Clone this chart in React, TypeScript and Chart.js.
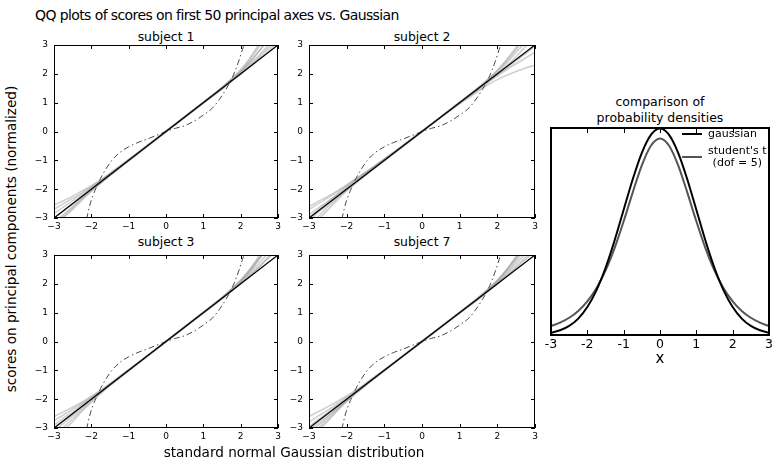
import React, { useEffect, useRef } from "react";
import { Chart, registerables } from "chart.js";
Chart.register(...registerables);

// ---------------- DATA ----------------
const qqTicks = [-3, -2, -1, 0, 1, 2, 3];
const densityTicks = [-3, -2, -1, 0, 1, 2, 3];

// theoretical gaussian quantiles where the grey score curves are sampled
const gridX = [-3, -2.75, -2.5, -2.25, -2, -1.75, -1.5, -1, 0, 1, 1.5, 1.75, 2, 2.25, 2.5, 2.75, 3];

const subject1Lines = [
  [-3.35, -3.0, -2.7, -2.38, -2.08, -1.8, -1.53, -1.02, 0, 1.0, 1.5, 1.78, 2.05, 2.4, 2.8, 3.2, 3.6],
  [-3.15, -2.88, -2.6, -2.3, -2.03, -1.77, -1.51, -1.0, 0.01, 1.01, 1.52, 1.8, 2.1, 2.5, 2.95, 3.4, 3.9],
  [-3.0, -2.75, -2.5, -2.25, -2.0, -1.74, -1.49, -0.99, 0, 1.0, 1.49, 1.76, 2.02, 2.33, 2.65, 3.0, 3.35],
  [-2.85, -2.62, -2.4, -2.18, -1.95, -1.72, -1.47, -0.98, 0.02, 1.02, 1.53, 1.83, 2.15, 2.55, 3.05, 3.5, 4.0],
  [-2.7, -2.5, -2.32, -2.12, -1.92, -1.7, -1.46, -0.99, -0.01, 0.99, 1.48, 1.75, 2.0, 2.28, 2.58, 2.9, 3.2],
  [-2.55, -2.4, -2.24, -2.06, -1.88, -1.68, -1.45, -0.97, 0.01, 1.01, 1.51, 1.79, 2.08, 2.42, 2.8, 3.25, 3.7],
  [-3.25, -2.95, -2.65, -2.33, -2.05, -1.78, -1.52, -1.01, -0.01, 0.98, 1.47, 1.73, 1.98, 2.25, 2.52, 2.8, 3.1],
];
const subject2Lines = [
  [-3.3, -2.95, -2.62, -2.3, -2.02, -1.76, -1.5, -1.0, 0, 1.0, 1.5, 1.77, 2.05, 2.38, 2.75, 3.1, 3.5],
  [-2.9, -2.65, -2.42, -2.18, -1.93, -1.69, -1.44, -0.97, 0.01, 0.96, 1.4, 1.62, 1.8, 1.95, 2.08, 2.2, 2.3],
  [-3.1, -2.8, -2.55, -2.28, -2.0, -1.75, -1.5, -1.0, 0, 1.01, 1.52, 1.8, 2.1, 2.45, 2.85, 3.3, 3.7],
  [-2.7, -2.5, -2.3, -2.1, -1.88, -1.65, -1.42, -0.96, 0.01, 0.98, 1.45, 1.7, 1.93, 2.15, 2.35, 2.55, 2.75],
  [-3.4, -3.05, -2.72, -2.38, -2.06, -1.78, -1.52, -1.02, -0.01, 1.0, 1.49, 1.75, 2.0, 2.28, 2.6, 2.95, 3.3],
  [-2.6, -2.42, -2.25, -2.06, -1.85, -1.63, -1.42, -0.95, 0, 1.02, 1.53, 1.82, 2.13, 2.5, 2.92, 3.4, 3.9],
  [-3.0, -2.72, -2.45, -2.2, -1.96, -1.72, -1.47, -0.98, 0.02, 0.99, 1.47, 1.72, 1.96, 2.2, 2.45, 2.7, 2.95],
];
const subject3Lines = [
  [-3.4, -3.1, -2.78, -2.42, -2.1, -1.8, -1.53, -1.02, 0, 1.0, 1.5, 1.78, 2.06, 2.42, 2.85, 3.3, 3.8],
  [-3.1, -2.85, -2.58, -2.3, -2.02, -1.76, -1.5, -1.0, 0.01, 1.01, 1.51, 1.79, 2.08, 2.45, 2.9, 3.35, 3.8],
  [-2.9, -2.66, -2.44, -2.2, -1.97, -1.73, -1.48, -0.99, 0, 0.99, 1.49, 1.75, 2.01, 2.3, 2.62, 2.95, 3.3],
  [-2.6, -2.44, -2.28, -2.1, -1.9, -1.69, -1.46, -0.98, -0.01, 1.0, 1.52, 1.82, 2.14, 2.52, 2.98, 3.45, 3.95],
  [-3.25, -2.98, -2.68, -2.36, -2.06, -1.78, -1.51, -1.01, 0.01, 1.02, 1.53, 1.81, 2.11, 2.48, 2.9, 3.3, 3.7],
  [-2.75, -2.55, -2.35, -2.15, -1.93, -1.71, -1.47, -0.98, 0, 0.98, 1.47, 1.74, 2.0, 2.27, 2.58, 2.9, 3.2],
  [-3.0, -2.76, -2.52, -2.26, -2.0, -1.75, -1.49, -0.99, 0, 1.0, 1.5, 1.77, 2.04, 2.36, 2.72, 3.1, 3.5],
];
const subject7Lines = [
  [-3.3, -3.0, -2.7, -2.38, -2.07, -1.79, -1.52, -1.01, 0, 1.0, 1.5, 1.77, 2.05, 2.4, 2.8, 3.2, 3.65],
  [-3.05, -2.82, -2.58, -2.3, -2.02, -1.76, -1.5, -1.0, 0.01, 1.01, 1.51, 1.79, 2.09, 2.46, 2.88, 3.3, 3.75],
  [-2.8, -2.58, -2.38, -2.16, -1.94, -1.71, -1.47, -0.98, 0, 0.99, 1.48, 1.74, 2.0, 2.28, 2.6, 2.92, 3.25],
  [-2.6, -2.43, -2.26, -2.08, -1.89, -1.68, -1.46, -0.98, -0.01, 1.01, 1.52, 1.81, 2.12, 2.5, 2.95, 3.4, 3.85],
  [-3.45, -3.1, -2.76, -2.4, -2.08, -1.8, -1.53, -1.02, 0.01, 1.0, 1.49, 1.76, 2.03, 2.35, 2.7, 3.05, 3.4],
  [-2.95, -2.7, -2.47, -2.22, -1.98, -1.73, -1.48, -0.99, 0, 1.02, 1.53, 1.82, 2.12, 2.5, 2.92, 3.35, 3.8],
  [-3.15, -2.9, -2.62, -2.32, -2.04, -1.77, -1.51, -1.0, 0, 0.98, 1.47, 1.73, 1.99, 2.26, 2.55, 2.85, 3.15],
];

// identity reference line
const refX = [-3, 3];
const refY = [-3, 3];

// dash-dot reference curve (student's t scores)
const tailX = [-2.2, -2.12, -2.05, -1.95, -1.85, -1.75, -1.6, -1.45, -1.25, -1.0, -0.75, -0.5, -0.25, 0, 0.25, 0.5, 0.75, 1.0, 1.25, 1.4, 1.6, 1.75, 1.85, 1.95, 2.05, 2.1, 2.2];
const tailY = [-3.5, -3.0, -2.6, -2.2, -1.9, -1.62, -1.28, -1.0, -0.74, -0.53, -0.38, -0.26, -0.13, 0, 0.11, 0.2, 0.36, 0.57, 0.82, 1.06, 1.45, 1.8, 2.1, 2.45, 2.85, 3.05, 3.5];

// densities
const densityX = [-3, -2.75, -2.5, -2.25, -2, -1.75, -1.5, -1.25, -1, -0.75, -0.5, -0.25, 0, 0.25, 0.5, 0.75, 1, 1.25, 1.5, 1.75, 2, 2.25, 2.5, 2.75, 3];
const gaussianY = [0.0044, 0.0091, 0.0175, 0.0317, 0.054, 0.0863, 0.1295, 0.1826, 0.242, 0.3011, 0.3521, 0.3867, 0.3989, 0.3867, 0.3521, 0.3011, 0.242, 0.1826, 0.1295, 0.0863, 0.054, 0.0317, 0.0175, 0.0091, 0.0044];
const studentY = [0.0173, 0.0239, 0.0333, 0.0466, 0.0651, 0.0905, 0.1245, 0.1679, 0.2197, 0.2757, 0.3279, 0.3657, 0.3796, 0.3657, 0.3279, 0.2757, 0.2197, 0.1679, 0.1245, 0.0905, 0.0651, 0.0466, 0.0333, 0.0239, 0.0173];

const legendLabels = ["gaussian", "student's t", "(dof = 5)"];

// ---------------- HELPERS ----------------
const FONT = "'DejaVu Sans', 'Bitstream Vera Sans', sans-serif";
Chart.defaults.font.family = FONT;

const frameTicks = {
  id: "frameTicks",
  afterDatasetsDraw(chart: any, _args: any, opts: any) {
    const { ctx, chartArea: a, scales } = chart;
    ctx.save();
    ctx.strokeStyle = "#000";
    ctx.lineWidth = 1;
    const len = opts.tickLen || 4;
    ctx.beginPath();
    for (const v of opts.xTicks || []) {
      const px = Math.round(scales.x.getPixelForValue(v)) + 0.5;
      ctx.moveTo(px, a.bottom);
      ctx.lineTo(px, a.bottom - len);
      ctx.moveTo(px, a.top);
      ctx.lineTo(px, a.top + len);
    }
    for (const v of opts.yTicks || []) {
      const py = Math.round(scales.y.getPixelForValue(v)) + 0.5;
      ctx.moveTo(a.left, py);
      ctx.lineTo(a.left + len, py);
      ctx.moveTo(a.right, py);
      ctx.lineTo(a.right - len, py);
    }
    ctx.stroke();
    const w = opts.frameWidth || 1;
    ctx.lineWidth = w;
    const o = w % 2 === 1 ? 0.5 : 0;
    ctx.strokeRect(a.left + o, a.top + o, a.right - a.left - 1 + (w > 1 ? 1 : 0), a.bottom - a.top - 1 + (w > 1 ? 1 : 0));
    ctx.restore();
  },
};

const densityLegend = {
  id: "densityLegend",
  afterDraw(chart: any) {
    const { ctx, chartArea: a } = chart;
    ctx.save();
    ctx.font = `11px ${FONT}`;
    ctx.textBaseline = "middle";
    ctx.lineWidth = 2;
    const x0 = a.left + 131;
    const x1 = a.left + 151;
    const tx = a.left + 157;
    ctx.strokeStyle = "#000";
    ctx.beginPath();
    ctx.moveTo(x0, a.top + 6);
    ctx.lineTo(x1, a.top + 6);
    ctx.stroke();
    ctx.fillStyle = "#000";
    ctx.textAlign = "left";
    ctx.fillText(legendLabels[0], tx, a.top + 6);
    ctx.strokeStyle = "#555";
    ctx.beginPath();
    ctx.moveTo(x0, a.top + 29);
    ctx.lineTo(x1, a.top + 29);
    ctx.stroke();
    const w1 = ctx.measureText(legendLabels[1]).width;
    ctx.textAlign = "center";
    ctx.fillText(legendLabels[1], tx + w1 / 2, a.top + 23);
    ctx.fillText(legendLabels[2], tx + w1 / 2, a.top + 35);
    ctx.restore();
  },
};

const minusFmt = (v: number) => (v < 0 ? "\u2212" + Math.abs(v) : String(v));

type Rect = { l: number; t: number; r: number; b: number };

function QQPanel({ area, lines }: { area: Rect; lines: number[][] }) {
  const ref = useRef<HTMLCanvasElement>(null);
  const YW = 30, XH = 18, PT = 8, PR = 6;
  const cw = area.r - area.l + YW + PR;
  const ch = area.b - area.t + PT + XH;
  useEffect(() => {
    const datasets: any[] = [
      {
        data: refX.map((x, i) => ({ x, y: refY[i] })),
        borderColor: "#000",
        borderWidth: 1.3,
      },
      {
        data: tailX.map((x, i) => ({ x, y: tailY[i] })),
        borderColor: "#4a4a4a",
        borderWidth: 1,
        borderDash: [6, 3, 1.5, 3],
        cubicInterpolationMode: "monotone",
      },
      ...lines.map((ys) => ({
        data: gridX.map((x, i) => ({ x, y: ys[i] })),
        borderColor: "rgba(150,150,150,0.45)",
        borderWidth: 1.6,
        cubicInterpolationMode: "monotone",
      })),
    ];
    datasets.forEach((d) => {
      d.showLine = true;
      d.pointRadius = 0;
      d.pointHoverRadius = 0;
      d.fill = false;
    });
    const zeroPad = (s: any) => {
      s.paddingLeft = 0;
      s.paddingRight = 0;
      s.paddingTop = 0;
      s.paddingBottom = 0;
    };
    const chart = new Chart(ref.current!, {
      type: "scatter",
      data: { datasets },
      plugins: [frameTicks],
      options: {
        animation: false,
        responsive: false,
        events: [],
        layout: { padding: { left: 0, top: PT, right: PR, bottom: 0 } },
        plugins: {
          legend: { display: false },
          tooltip: { enabled: false },
          frameTicks: { xTicks: qqTicks, yTicks: qqTicks, tickLen: 4, frameWidth: 1 },
        } as any,
        scales: {
          x: {
            type: "linear",
            min: -3,
            max: 3,
            afterBuildTicks: (s: any) => {
              s.ticks = qqTicks.map((v) => ({ value: v }));
            },
            afterFit: (s: any) => {
              s.height = XH;
              zeroPad(s);
            },
            grid: { display: false, drawTicks: false },
            border: { display: false },
            ticks: {
              autoSkip: false,
              maxRotation: 0,
              padding: 3,
              color: "#000",
              font: { size: 9, family: FONT },
              callback: (v: any) => minusFmt(Number(v)),
            },
          },
          y: {
            type: "linear",
            min: -3,
            max: 3,
            afterBuildTicks: (s: any) => {
              s.ticks = qqTicks.map((v) => ({ value: v }));
            },
            afterFit: (s: any) => {
              s.width = YW;
              zeroPad(s);
            },
            grid: { display: false, drawTicks: false },
            border: { display: false },
            ticks: {
              autoSkip: false,
              padding: 6,
              color: "#000",
              font: { size: 9, family: FONT },
              callback: (v: any) => minusFmt(Number(v)),
            },
          },
        },
      } as any,
    });
    return () => chart.destroy();
  }, []);
  return (
    <canvas
      ref={ref}
      width={cw}
      height={ch}
      style={{ position: "absolute", left: area.l - YW, top: area.t - PT, width: cw, height: ch }}
    />
  );
}

function DensityPanel({ area }: { area: Rect }) {
  const ref = useRef<HTMLCanvasElement>(null);
  const PL = 11, PR = 772 - area.r, PT = 8, XH = 22;
  const cw = area.r - area.l + PL + PR;
  const ch = area.b - area.t + PT + XH;
  useEffect(() => {
    const datasets: any[] = [
      {
        data: densityX.map((x, i) => ({ x, y: gaussianY[i] })),
        borderColor: "#000",
        borderWidth: 2,
      },
      {
        data: densityX.map((x, i) => ({ x, y: studentY[i] })),
        borderColor: "#555",
        borderWidth: 2,
      },
    ];
    datasets.forEach((d) => {
      d.showLine = true;
      d.pointRadius = 0;
      d.pointHoverRadius = 0;
      d.fill = false;
      d.cubicInterpolationMode = "monotone";
    });
    const zeroPad = (s: any) => {
      s.paddingLeft = 0;
      s.paddingRight = 0;
      s.paddingTop = 0;
      s.paddingBottom = 0;
    };
    const chart = new Chart(ref.current!, {
      type: "scatter",
      data: { datasets },
      plugins: [frameTicks, densityLegend],
      options: {
        animation: false,
        responsive: false,
        events: [],
        layout: { padding: { left: PL, top: PT, right: PR, bottom: 0 } },
        plugins: {
          legend: { display: false },
          tooltip: { enabled: false },
          frameTicks: { xTicks: densityTicks, yTicks: [], tickLen: 5, frameWidth: 2 },
        } as any,
        scales: {
          x: {
            type: "linear",
            min: -3,
            max: 3,
            afterBuildTicks: (s: any) => {
              s.ticks = densityTicks.map((v) => ({ value: v }));
            },
            afterFit: (s: any) => {
              s.height = XH;
              zeroPad(s);
            },
            grid: { display: false, drawTicks: false },
            border: { display: false },
            ticks: {
              autoSkip: false,
              maxRotation: 0,
              padding: 2,
              color: "#000",
              font: { size: 12.5, family: FONT },
              callback: (v: any) => String(v),
            },
          },
          y: {
            type: "linear",
            display: false,
            min: 0,
            max: 0.4,
            afterFit: (s: any) => {
              s.width = 0;
              zeroPad(s);
            },
          },
        },
      } as any,
    });
    return () => chart.destroy();
  }, []);
  return (
    <canvas
      ref={ref}
      width={cw}
      height={ch}
      style={{ position: "absolute", left: area.l - PL, top: area.t - PT, width: cw, height: ch }}
    />
  );
}

function Label({ x, y, size, text, rotate }: { x: number; y: number; size: number; text: string; rotate?: boolean }) {
  return (
    <div
      style={{
        position: "absolute",
        left: x,
        top: y,
        transform: `translate(-50%, -50%)${rotate ? " rotate(-90deg)" : ""}`,
        fontFamily: FONT,
        fontSize: size,
        lineHeight: 1,
        whiteSpace: "nowrap",
        color: "#000",
      }}
    >
      {text}
    </div>
  );
}

export default function App() {
  return (
    <div
      style={{
        position: "absolute",
        left: 0,
        top: 0,
        width: 772,
        height: 465,
        overflow: "hidden",
        background: "#fff",
      }}
    >
      <div
        style={{
          position: "absolute",
          left: 35,
          top: 8,
          fontFamily: FONT,
          fontSize: 14,
          lineHeight: 1,
          whiteSpace: "nowrap",
          letterSpacing: -0.6,
        }}
      >
        QQ plots of scores on first 50 principal axes vs. Gaussian
      </div>
      <Label x={166} y={37} size={12.4} text="subject 1" />
      <Label x={422} y={37} size={12.4} text="subject 2" />
      <Label x={166} y={242} size={12.4} text="subject 3" />
      <Label x={422} y={242} size={12.4} text="subject 7" />
      <QQPanel area={{ l: 54, t: 45, r: 278, b: 218 }} lines={subject1Lines} />
      <QQPanel area={{ l: 309, t: 45, r: 535, b: 218 }} lines={subject2Lines} />
      <QQPanel area={{ l: 54, t: 255, r: 278, b: 428 }} lines={subject3Lines} />
      <QQPanel area={{ l: 309, t: 255, r: 535, b: 428 }} lines={subject7Lines} />
      <Label x={12} y={239} size={13.6} text="scores on principal components (normalized)" rotate />
      <Label x={294} y={453} size={13.6} text="standard normal Gaussian distribution" />
      <Label x={660} y={102} size={12.5} text="comparison of" />
      <Label x={660} y={118} size={12.5} text="probability densities" />
      <DensityPanel area={{ l: 551, t: 128, r: 769, b: 335 }} />
      <Label x={660} y={358} size={15} text="x" />
    </div>
  );
}
